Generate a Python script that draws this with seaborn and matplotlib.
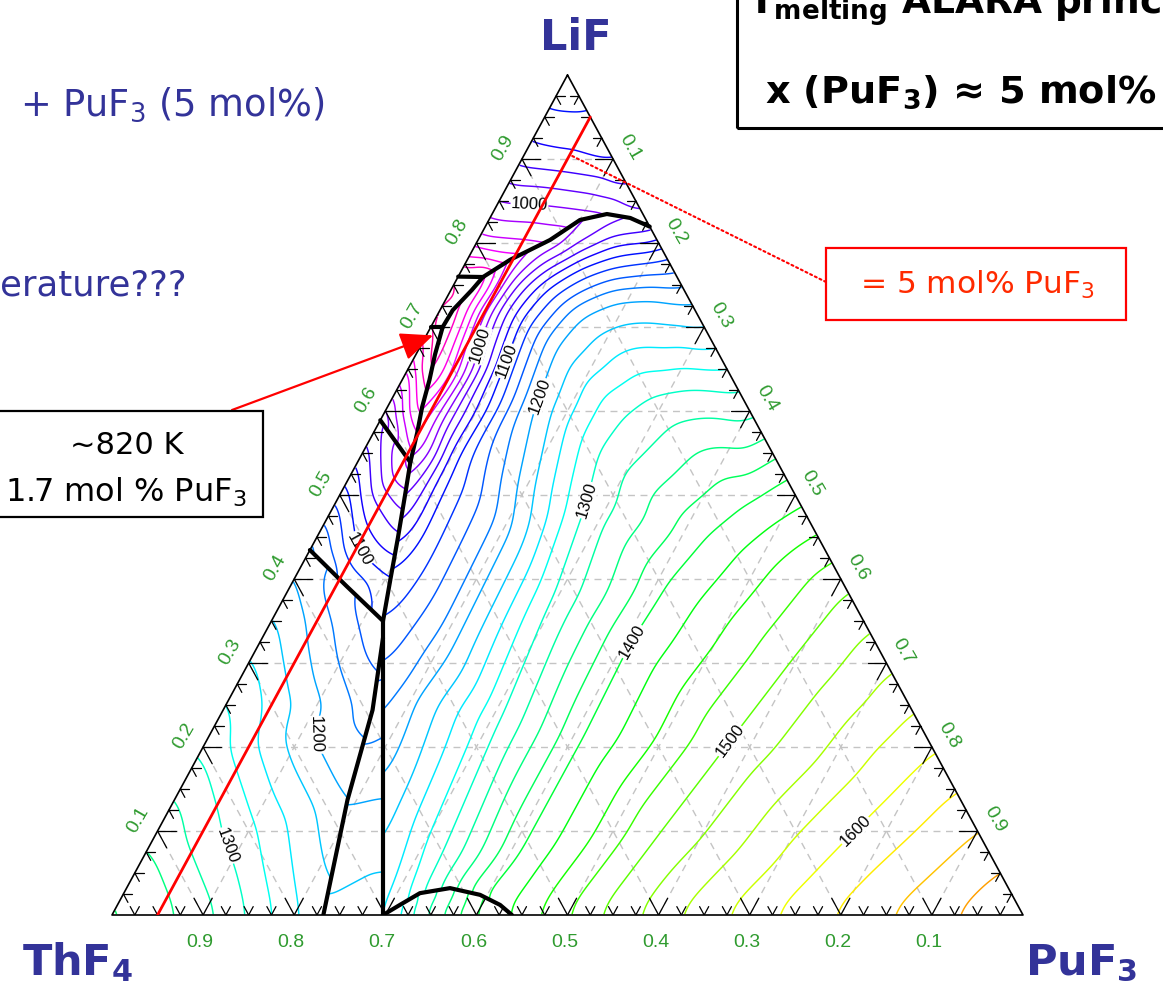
import numpy as np
import matplotlib
matplotlib.use("Agg")
import matplotlib.pyplot as plt
import matplotlib.tri as mtri
from matplotlib.patches import Polygon, Rectangle
from matplotlib.path import Path
from matplotlib.colors import Normalize
import seaborn as sns

sns.set_theme(style="white")
plt.rcParams["font.family"] = ["DejaVu Sans"]
plt.rcParams["mathtext.fontset"] = "dejavusans"

W, H = 1163, 996

# ---------------- data (mole fractions: li = LiF, pu = PuF3) ----------------
levels = list(range(800, 1725, 25))

# phase boundaries (thick black) with liquidus temperature along them (K)
arc_li = [0.7595, 0.780, 0.8036, 0.8274, 0.8345, 0.8298, 0.8195]
arc_pu = [0.0275, 0.047, 0.079, 0.100, 0.126, 0.154, 0.1805]
arc_t = [840, 915, 955, 985, 997, 1008, 1016]

main_li = [0.7595, 0.744, 0.720, 0.700, 0.667, 0.637, 0.605, 0.574, 0.539, 0.502, 0.450, 0.399, 0.350]
main_pu = [0.0275, 0.023, 0.014, 0.013, 0.021, 0.030, 0.038, 0.048, 0.058, 0.071, 0.089, 0.106, 0.1225]
main_t = [840, 833, 826, 821, 828, 850, 880, 915, 955, 1000, 1050, 1100, 1120]

v_li = [0.350, 0.330, 0.310, 0.264, 0.157, 0.0]
v_pu = [0.1225, 0.1325, 0.1425, 0.1655, 0.219, 0.2975]
v_t = [1120, 1130, 1140, 1160, 1195, 1240]

sl_li = [0.330, 0.244, 0.137, 0.0]
sl_pu = [0.1325, 0.164, 0.190, 0.232]
sl_t = [1130, 1160, 1198, 1230]

dome_li = [0.0, 0.012, 0.026, 0.032, 0.024, 0.012, 0.0]
dome_pu = [0.2975, 0.310, 0.325, 0.355, 0.392, 0.420, 0.439]
dome_t = [1240, 1265, 1300, 1340, 1395, 1420, 1430]

e1_li, e1_pu = [0.76, 0.7595], [0.0, 0.0275]
s2_li, s2_pu = [0.70, 0.70], [0.0, 0.013]
s3_li, s3_pu, s3_t = [0.589, 0.564, 0.539], [0.0, 0.029, 0.058], [1030, 990, 955]
s4_li, s4_pu, s4_t = [0.4345, 0.392, 0.350], [0.0, 0.061, 0.1225], [1190, 1150, 1120]

# binary edges: LiF-ThF4 (left), LiF-PuF3 (right), ThF4-PuF3 (bottom)
lt_li = [1.0, 0.95, 0.90, 0.85, 0.80, 0.78, 0.76, 0.73, 0.70, 0.65, 0.589, 0.51, 0.4345, 0.41,
         0.363, 0.313, 0.264, 0.196, 0.146, 0.083, 0.02, 0.0]
lt_t = [1121, 1096, 1061, 1003, 939, 905, 850, 858, 865, 930, 1030, 1110, 1190, 1200,
        1225, 1250, 1275, 1300, 1325, 1350, 1375, 1383]
lp_li = [1.0, 0.95, 0.90, 0.875, 0.85, 0.8195, 0.7917, 0.7179, 0.6155, 0.52, 0.387, 0.195, 0.10, 0.0]
lp_t = [1121, 1098, 1078, 1060, 1040, 1016, 1100, 1200, 1300, 1400, 1500, 1600, 1650, 1702]
tp_pu = [0.0, 0.012, 0.072, 0.115, 0.148, 0.177, 0.206, 0.232, 0.2975, 0.324, 0.357, 0.396,
         0.439, 0.532, 0.62, 0.7245, 0.851, 1.0]
tp_t = [1383, 1375, 1350, 1325, 1300, 1275, 1250, 1230, 1240, 1290, 1340, 1395,
        1430, 1500, 1550, 1600, 1650, 1702]

# interior liquidus readings
r1_li = [0.95, 0.90, 0.85, 0.85, 0.80]
r1_pu = [0.025, 0.05, 0.05, 0.10, 0.05]
r1_t = [1097, 1068, 1006, 1015, 945]
r3_li, r3_pu, r3_t = [0.65], [0.013], [880]
r4_li, r4_pu, r4_t = [0.4345, 0.50], [0.052, 0.035], [1100, 1050]
r5_li = [0.214, 0.10, 0.25]
r5_pu = [0.112, 0.10, 0.05]
r5_t = [1200, 1282, 1243]
# traced isotherms inside the large PuF3-rich field
r7_li = [0.7202, 0.6786, 0.589, 0.7560, 0.7857, 0.8095,
         0.6607, 0.7083, 0.7440, 0.7702, 0.7845, 0.7893, 0.53, 0.45,
         0.619, 0.6786, 0.7143, 0.7321, 0.7345, 0.7286, 0.4583, 0.3095,
         0.494, 0.5536, 0.5976, 0.619, 0.6274, 0.625, 0.375, 0.2321, 0.0655,
         0.3274, 0.3929, 0.4488, 0.4881, 0.2083, 0.0774,
         0.2083, 0.3095, 0.10,
         0.1012, 0.1548, 0.05]
r7_pu = [0.0548, 0.0625, 0.066, 0.0589, 0.0770, 0.1035,
         0.1011, 0.0938, 0.1033, 0.1286, 0.1599, 0.1849, 0.106, 0.112,
         0.157, 0.147, 0.1566, 0.1861, 0.2233, 0.2592, 0.2099, 0.2163,
         0.2722, 0.2556, 0.2566, 0.2811, 0.3208, 0.3549, 0.2933, 0.3099, 0.3273,
         0.4049, 0.4106, 0.4265, 0.4508, 0.4096, 0.4092,
         0.5742, 0.595, 0.552,
         0.765, 0.7876, 0.745]
r7_t = [1000] * 6 + [1100] * 8 + [1200] * 8 + [1300] * 9 + [1400] * 6 + [1500] * 3 + [1600] * 3

# contour labels
lab_val = [1000, 1000, 1100, 1200, 1300, 1400, 1500, 1600, 1100, 1200, 1300]
lab_li = [0.851, 0.679, 0.661, 0.619, 0.494, 0.327, 0.208, 0.101, 0.4345, 0.214, 0.083]
lab_pu = [0.033, 0.062, 0.101, 0.157, 0.272, 0.405, 0.574, 0.765, 0.052, 0.112, 0.086]
lab_reg = ["R1", "R7", "R7", "R7", "R7", "R7", "R7", "R7", "R4", "R5", "R5"]

tick_major = [0.1, 0.2, 0.3, 0.4, 0.5, 0.6, 0.7, 0.8, 0.9]
tick_text = ["0.1", "0.2", "0.3", "0.4", "0.5", "0.6", "0.7", "0.8", "0.9"]


# ---------------- helpers ----------------
def to_xy(li, pu):
    li = np.asarray(li, float)
    pu = np.asarray(pu, float)
    return pu + li / 2.0, li


def sel(a, t, lo, hi):
    a = np.asarray(a, float)
    m = (a >= lo - 1e-9) & (a <= hi + 1e-9)
    return a[m], np.asarray(t, float)[m]


def rev(a):
    return list(a)[::-1]


def fx(px):
    return px / W


def fy(py):
    return 1 - py / H


def smooth_nan(Z, sigma):
    r = int(3 * sigma)
    k = np.exp(-0.5 * (np.arange(-r, r + 1) / sigma) ** 2)
    k /= k.sum()
    M = np.isfinite(Z).astype(float)
    Z0 = np.where(M > 0, Z, 0.0)

    def conv(A):
        A = np.apply_along_axis(lambda v: np.convolve(v, k, mode="same"), 0, A)
        return np.apply_along_axis(lambda v: np.convolve(v, k, mode="same"), 1, A)

    num, den = conv(Z0), conv(M)
    return np.where((M > 0) & (den > 1e-6), num / np.maximum(den, 1e-12), np.nan)


fig = plt.figure(figsize=(W / 100, H / 100), dpi=100)
fig.patch.set_facecolor("white")
ax = fig.add_axes([112 / W, (H - 915) / H, 911 / W, 840 / H])
ax.set_xlim(0, 1)
ax.set_ylim(0, 1)
ax.axis("off")

# dashed grid
for v in tick_major:
    for gl, gp in [([v, v], [0, 1 - v]), ([0, 1 - v], [v, v]), ([0, 1 - v], [1 - v, 0])]:
        ax.plot(*to_xy(gl, gp), color="#c4c4c4", lw=1.0, ls=(0, (5, 4)), zorder=1)

# ---------------- regions ----------------
regions = {}
li, t = sel(lt_li, lt_t, 0.76, 1.0)
li2, t2 = sel(lp_li, lp_t, 0.8195, 1.0)
regions["R1"] = dict(
    poly=([1.0] + rev(arc_li) + [0.76], [0.0] + rev(arc_pu) + [0.0]),
    li=np.r_[li, li2, arc_li, r1_li], pu=np.r_[0 * li, 1 - li2, arc_pu, r1_pu],
    t=np.r_[t, t2, arc_t, r1_t], sig=4.0)
li, t = sel(lt_li, lt_t, 0.70, 0.76)
regions["R2"] = dict(
    poly=([0.76] + main_li[:4] + [0.70], [0.0] + main_pu[:4] + [0.0]),
    li=np.r_[li, main_li[:4]], pu=np.r_[0 * li, main_pu[:4]], t=np.r_[t, main_t[:4]], sig=2.0)
li, t = sel(lt_li, lt_t, 0.589, 0.70)
regions["R3"] = dict(
    poly=([0.70] + main_li[3:9] + [0.564, 0.589], [0.0] + main_pu[3:9] + [0.029, 0.0]),
    li=np.r_[li, main_li[3:9], s3_li, r3_li], pu=np.r_[0 * li, main_pu[3:9], s3_pu, r3_pu],
    t=np.r_[t, main_t[3:9], s3_t, r3_t], sig=3.0)
li, t = sel(lt_li, lt_t, 0.4345, 0.589)
regions["R4"] = dict(
    poly=(s3_li + main_li[9:] + [0.392, 0.4345], s3_pu + main_pu[9:] + [0.061, 0.0]),
    li=np.r_[li, main_li[8:], s3_li, s4_li, r4_li], pu=np.r_[0 * li, main_pu[8:], s3_pu, s4_pu, r4_pu],
    t=np.r_[t, main_t[8:], s3_t, s4_t, r4_t], sig=4.0)
li, t = sel(lt_li, lt_t, 0.0, 0.4345)
pb, tb = np.asarray(tp_pu), np.asarray(tp_t, float)
mb = pb <= 0.232 + 1e-9
regions["R5"] = dict(
    poly=(s4_li + sl_li + [0.0], s4_pu + sl_pu + [0.0]),
    li=np.r_[li, 0 * pb[mb], s4_li, sl_li, r5_li], pu=np.r_[0 * li, pb[mb], s4_pu, sl_pu, r5_pu],
    t=np.r_[t, tb[mb], s4_t, sl_t, r5_t], sig=6.0)
mb = (pb >= 0.232 - 1e-9) & (pb <= 0.2975 + 1e-9)
regions["R6"] = dict(
    poly=(v_li[1:] + rev(sl_li)[:-1], v_pu[1:] + rev(sl_pu)[:-1]),
    li=np.r_[v_li[1:], sl_li, 0 * pb[mb]], pu=np.r_[v_pu[1:], sl_pu, pb[mb]],
    t=np.r_[v_t[1:], sl_t, tb[mb]], sig=3.0)
mb = (pb >= 0.2975 - 1e-9) & (pb <= 0.439 + 1e-9)
regions["R8"] = dict(
    poly=(dome_li, dome_pu),
    li=np.r_[dome_li, 0 * pb[mb]], pu=np.r_[dome_pu, pb[mb]], t=np.r_[dome_t, tb[mb]], sig=2.0)
li2, t2 = sel(lp_li, lp_t, 0.0, 0.8195)
mb = pb >= 0.439 - 1e-9
regions["R7"] = dict(
    poly=([0.8195, 0.0, 0.0] + rev(dome_li) + rev(v_li) + rev(main_li) + arc_li,
          [0.1805, 1.0, 0.439] + rev(dome_pu) + rev(v_pu) + rev(main_pu) + arc_pu),
    li=np.r_[li2, 0 * pb[mb], dome_li, v_li, main_li, arc_li, r7_li],
    pu=np.r_[1 - li2, pb[mb], dome_pu, v_pu, main_pu, arc_pu, r7_pu],
    t=np.r_[t2, tb[mb], dome_t, v_t, main_t, arc_t, r7_t], sig=6.5)

gx = np.linspace(-0.01, 1.01, 600)
gy = np.linspace(-0.01, 1.01, 560)
GX, GY = np.meshgrid(gx, gy)

norm = Normalize(757, 1786)
csets, rpaths = {}, {}
for name, r in regions.items():
    x, y = to_xy(r["li"], r["pu"])
    tt = np.asarray(r["t"], float)
    key = np.round(np.c_[x, y], 5)
    _, idx = np.unique(key, axis=0, return_index=True)
    idx = np.sort(idx)
    tri = mtri.Triangulation(x[idx], y[idx])
    Z = mtri.LinearTriInterpolator(tri, tt[idx])(GX, GY)
    Z = np.ma.filled(Z.astype(float), np.nan)
    Zs = smooth_nan(Z, r["sig"])
    cs = ax.contour(GX, GY, np.ma.masked_invalid(Zs), levels=levels, cmap="hsv_r", norm=norm,
                    linewidths=1.05, zorder=2)
    px, py = to_xy(*r["poly"])
    patch = Polygon(np.c_[px, py], closed=True, transform=ax.transData, fc="none", ec="none")
    ax.add_patch(patch)
    cs.set_clip_path(patch)
    csets[name] = cs
    rpaths[name] = Path(np.c_[px, py])


def put_label(name, val, li, pu):
    cs = csets[name]
    lv = [float(l) for l in cs.levels]
    if float(val) not in lv:
        return
    path = cs.get_paths()[lv.index(float(val))]
    verts, codes = path.vertices, path.codes
    if len(verts) < 3:
        return
    inside = rpaths[name].contains_points(verts)
    if not inside.any():
        return
    pv = ax.transData.transform(verts)
    x, y = to_xy(li, pu)
    pt = ax.transData.transform((float(x), float(y)))
    d = np.hypot(pv[:, 0] - pt[0], pv[:, 1] - pt[1])
    d[~inside] = np.inf
    j = int(np.argmin(d))
    starts = np.array([0]) if codes is None else np.where(codes == Path.MOVETO)[0]
    s0 = starts[starts <= j].max()
    nxt = starts[starts > j]
    s1 = (nxt.min() if len(nxt) else len(verts)) - 1
    a, b = max(j - 6, s0), min(j + 6, s1)
    dx, dy = pv[b] - pv[a]
    ang = np.degrees(np.arctan2(dy, dx))
    if ang > 90:
        ang -= 180
    if ang <= -90:
        ang += 180
    ax.text(verts[j, 0], verts[j, 1], f"{val}", rotation=ang, rotation_mode="anchor", ha="center",
            va="center", fontsize=12, family="Liberation Sans", color="black", zorder=3,
            bbox=dict(fc="white", ec="none", pad=0.4))


for val, li, pu, reg in zip(lab_val, lab_li, lab_pu, lab_reg):
    put_label(reg, val, li, pu)

# phase boundaries
for bl, bp in [(arc_li, arc_pu), (main_li, main_pu), (v_li, v_pu), (sl_li, sl_pu), (dome_li, dome_pu),
               (e1_li, e1_pu), (s2_li, s2_pu), (s3_li, s3_pu), (s4_li, s4_pu)]:
    ax.plot(*to_xy(bl, bp), color="black", lw=3.0, solid_capstyle="round", zorder=4)

# triangle frame
ax.plot(*to_xy([1, 0, 0, 1], [0, 0, 1, 0]), color="black", lw=1.2, zorder=5, clip_on=False)

# ticks
for i in range(1, 40):
    v = i * 0.025
    d = 0.02 if i % 4 == 0 else 0.01
    for (a, b) in [((0, v), (d, v)), ((0, v), (d, v - d)),
                   ((v, 0), (v, d)), ((v, 0), (v - d, d)),
                   ((v, 1 - v), (v, 1 - v - d)), ((v, 1 - v), (v - d, 1 - v))]:
        ax.plot(*to_xy([a[0], b[0]], [a[1], b[1]]), color="black", lw=0.9, zorder=5)

# tick labels
green = "#2f9b2f"
for v, s in zip(tick_major, tick_text):
    x, y = to_xy(0, 1 - v)
    ax.annotate(s, (float(x), float(y)), xytext=(-3, -27), textcoords="offset pixels", ha="center",
                va="center", color=green, fontsize=14, family="Liberation Sans", annotation_clip=False)
    x, y = to_xy(v, 0)
    ax.annotate(s, (float(x), float(y)), xytext=(-19, 11), textcoords="offset pixels", ha="center",
                va="center", color=green, fontsize=14, family="Liberation Sans", rotation=60,
                annotation_clip=False)
    x, y = to_xy(1 - v, v)
    ax.annotate(s, (float(x), float(y)), xytext=(17, 12), textcoords="offset pixels", ha="center",
                va="center", color=green, fontsize=14, family="Liberation Sans", rotation=-60,
                annotation_clip=False)

# red 5 mol% PuF3 line and pointers
ax.plot(*to_xy([0.0, 0.95], [0.05, 0.05]), color="red", lw=2.0, zorder=6)
x0, y0 = to_xy(0.905, 0.05)
ax.annotate("", xy=(float(x0), float(y0)), xytext=(fx(826), fy(282)), textcoords="figure fraction",
            arrowprops=dict(arrowstyle="-", color="red", lw=1.5, linestyle=(0, (1, 1.5)),
                            shrinkA=0, shrinkB=0), zorder=6)
xe, ye = to_xy(0.690, 0.0074)
ax.annotate("", xy=(float(xe), float(ye)), xytext=(fx(232), fy(410)), textcoords="figure fraction",
            arrowprops=dict(arrowstyle="-|>,head_length=0.8,head_width=0.35", color="red", lw=1.6,
                            mutation_scale=25, shrinkA=0, shrinkB=0), zorder=7)

# vertex labels
blue = "#333399"
fig.text(fx(540), fy(50), "LiF", color=blue, fontsize=31, fontweight="bold", va="baseline")
fig.text(fx(22), fy(975), r"ThF$_\mathbf{4}$", color=blue, fontsize=31, fontweight="bold", va="baseline")
fig.text(fx(1025), fy(975), r"PuF$_\mathbf{3}$", color=blue, fontsize=31, fontweight="bold", va="baseline")

# slide texts
fig.text(fx(20), fy(116), r"+ PuF$_3$ (5 mol%)", color=blue, fontsize=26.5, va="baseline")
fig.text(fx(0), fy(295), "erature???", color=blue, fontsize=25.5, va="baseline")

fig.patches.append(Rectangle((fx(-5), fy(517)), 268 / W, 106 / H, transform=fig.transFigure,
                             fill=False, ec="black", lw=1.6))
fig.text(fx(127), fy(445), "~820 K", color="black", fontsize=22, ha="center", va="center")
fig.text(fx(126), fy(492), r"1.7 mol % PuF$_3$", color="black", fontsize=23, ha="center", va="center")

fig.patches.append(Rectangle((fx(826), fy(320)), 300 / W, 72 / H, transform=fig.transFigure,
                             fill=False, ec="red", lw=1.6))
fig.text(fx(977), fy(285), r"= 5 mol% PuF$_3$", color="#ff2a00", fontsize=22.5, ha="center", va="center")

fig.patches.append(Rectangle((fx(737), fy(128)), 440 / W, 140 / H, transform=fig.transFigure,
                             fill=False, ec="black", lw=2.2))
fig.text(fx(748), fy(14), r"T$_{\mathbf{melting}}$ ALARA principle", color="black", fontsize=27,
         fontweight="bold", va="baseline")
fig.text(fx(765), fy(103), r"x (PuF$_\mathbf{3}$) ≈ 5 mol%", color="black", fontsize=27.5,
         fontweight="bold", va="baseline")

fig.savefig("out.png", dpi=100, facecolor="white")
